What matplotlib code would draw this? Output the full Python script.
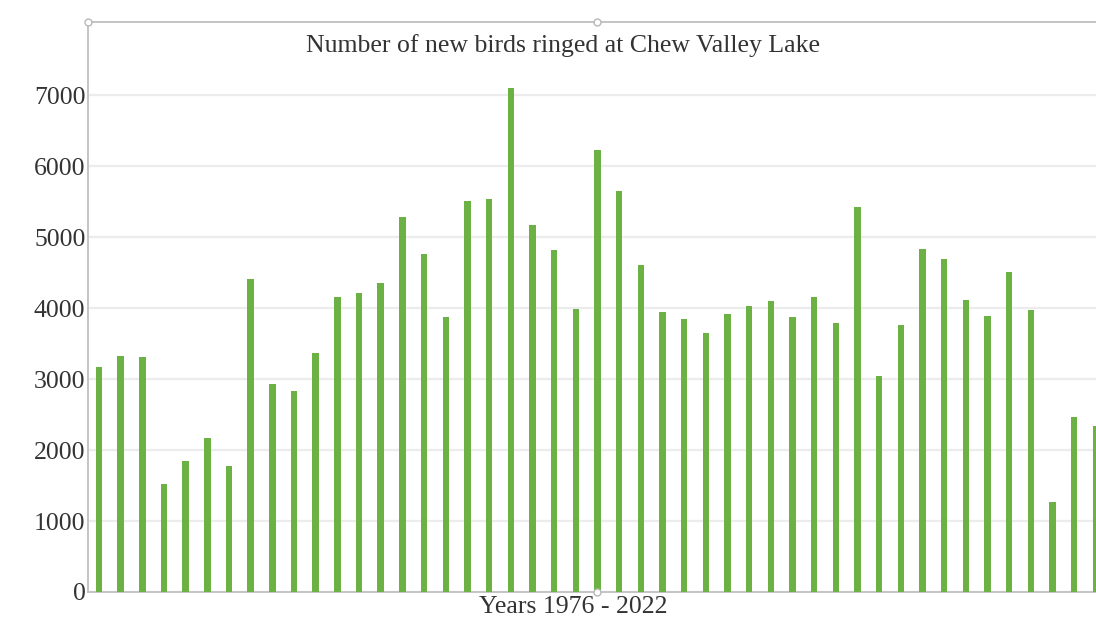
import matplotlib
matplotlib.use("Agg")
import matplotlib.pyplot as plt
import numpy as np

# Annual count of new birds ringed, 1976-2022
years = list(range(1976, 2023))
ringed = [
    3170, 3320, 3305, 1520, 1845, 2165, 1770, 4405, 2935, 2835,
    3365, 4150, 4210, 4355, 5280, 4765, 3880, 5515, 5540, 7095,
    5170, 4815, 3980, 6220, 5645, 4605, 3950, 3845, 3650, 3910,
    4030, 4105, 3880, 4150, 3795, 5430, 3045, 3760, 4830, 4690,
    4110, 3885, 4515, 3972, 1268, 2465, 2342,
]
title = "Number of new birds ringed at Chew Valley Lake"
xlabel = "Years 1976 - 2022"
yticks = [0, 1000, 2000, 3000, 4000, 5000, 6000, 7000]

serif = ["Liberation Serif", "DejaVu Serif"]
bar_color = "#6cb144"
text_color = "#333333"
font_size = 18.5

W, H = 1096, 620
fig = plt.figure(figsize=(W / 100, H / 100), dpi=100)
fig.patch.set_facecolor("white")

# plot area runs past the right edge of the figure
left_px, right_px, top_px, bottom_px = 88.2, 1106.7, 22, 592
ax = fig.add_axes([left_px / W, 1 - bottom_px / H,
                   (right_px - left_px) / W, (bottom_px - top_px) / H])
ax.set_facecolor("white")

x = np.arange(len(years))
ax.bar(x, ringed, width=0.3, color=bar_color, zorder=3)

ax.set_xlim(-0.5, len(years) - 0.5)
ax.set_ylim(0, 8030)
ax.set_yticks(yticks)
ax.set_yticklabels([str(v) for v in yticks], fontfamily=serif,
                   fontsize=font_size, color=text_color)
ax.set_xticks([])
ax.tick_params(axis="y", length=0, pad=2)
ax.grid(axis="y", color="#ececec", linewidth=1.6, zorder=0)

for side in ("left", "top", "bottom"):
    ax.spines[side].set_color("#c4c4c4")
    ax.spines[side].set_linewidth(1.4)
ax.spines["right"].set_visible(False)

# frame handles on the chart border
ax.plot([0, 0.5, 0.5], [1, 1, 0], linestyle="none", marker="o",
        markersize=5, markerfacecolor="white", markeredgecolor="#b8b8b8",
        markeredgewidth=1.0, transform=ax.transAxes, clip_on=False, zorder=5)

fig.text(563 / W, 1 - 46 / H, title, ha="center", va="center",
         fontfamily=serif, fontsize=font_size, color=text_color)
fig.text(573 / W, 1 - 607 / H, xlabel, ha="center", va="center",
         fontfamily=serif, fontsize=font_size, color=text_color)

fig.savefig("out.png", dpi=100, facecolor="white")
